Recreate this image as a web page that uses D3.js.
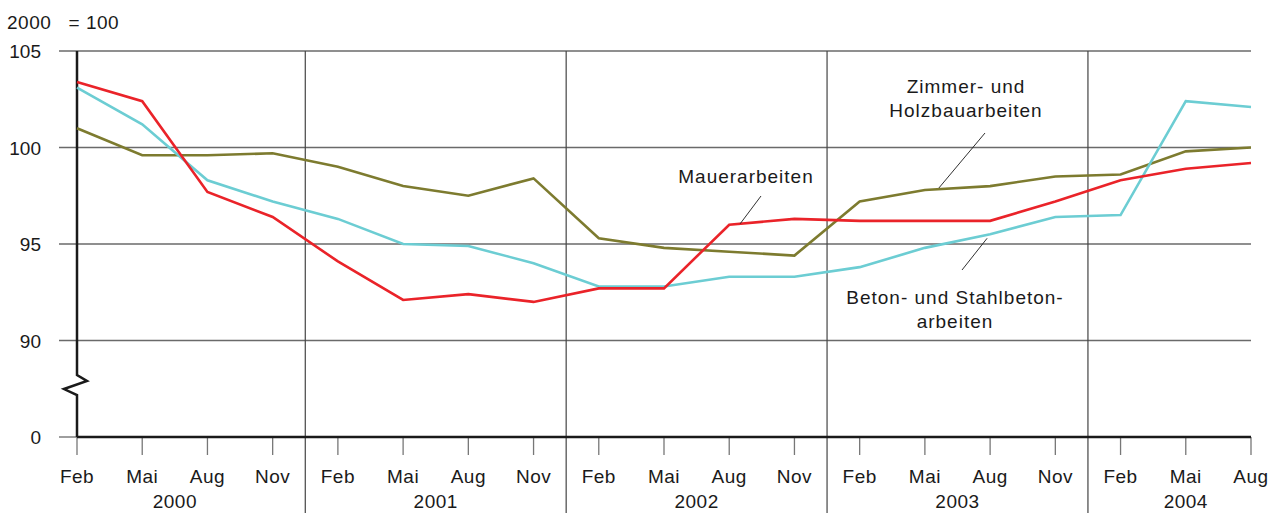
<!DOCTYPE html>
<html>
<head>
<meta charset="utf-8">
<script src="https://cdn.jsdelivr.net/npm/d3@7"></script>
<style>
body { margin: 0; background: #fff; }
text { font-family: "Liberation Sans", Arial, sans-serif; fill: #1a1a1a; }
</style>
</head>
<body>
<svg id="chart" width="1285" height="513"></svg>
<script>
var months = ["Feb", "Mai", "Aug", "Nov"];
var years = ["2000", "2001", "2002", "2003", "2004"];
var yTicks = [85, 90, 95, 100, 105];
var yTickLabels = ["0", "90", "95", "100", "105"];

var mauer = [103.4, 102.4, 97.7, 96.4, 94.1, 92.1, 92.4, 92.0, 92.7, 92.7, 96.0, 96.3, 96.2, 96.2, 96.2, 97.2, 98.3, 98.9, 99.2];
var beton = [103.1, 101.2, 98.3, 97.2, 96.3, 95.0, 94.9, 94.0, 92.8, 92.8, 93.3, 93.3, 93.8, 94.8, 95.5, 96.4, 96.5, 102.4, 102.1];
var zimmer = [101.0, 99.6, 99.6, 99.7, 99.0, 98.0, 97.5, 98.4, 95.3, 94.8, 94.6, 94.4, 97.2, 97.8, 98.0, 98.5, 98.6, 99.8, 100.0];

// quarter labels Feb 2000 .. Aug 2004
var quarters = [];
years.forEach(function(yr) {
    months.forEach(function(m) {
        if (quarters.length < mauer.length) quarters.push({ m: m, y: yr });
    });
});

var svg = d3.select("#chart");
var plotLeft = 77, plotRight = 1251, plotTop = 51, plotBottom = 437;

var x = d3.scaleLinear().domain([0, quarters.length - 1]).range([plotLeft, plotRight]);
var y = d3.scaleLinear().domain([85, 105]).range([plotBottom, plotTop]);

svg.append("text").attr("x", 7).attr("y", 29)
    .style("font-size", "19px").style("letter-spacing", "0.5px")
    .style("white-space", "pre")
    .text("2000   = 100");

// horizontal grid
svg.selectAll("line.grid")
    .data(yTicks)
    .enter()
    .append("line")
    .attr("x1", 59)
    .attr("x2", function(d) { return d == 85 ? plotLeft : plotRight; })
    .attr("y1", function(d) { return y(d); })
    .attr("y2", function(d) { return y(d); })
    .attr("stroke", "#6a6a6a")
    .attr("stroke-width", 1.3);

svg.selectAll("text.ytick")
    .data(yTicks)
    .enter()
    .append("text")
    .attr("x", 41)
    .attr("y", function(d) { return y(d) + 7; })
    .attr("text-anchor", "end")
    .style("font-size", "19px")
    .text(function(d, i) { return yTickLabels[i]; });

// year separators
svg.selectAll("line.year")
    .data(years.slice(1))
    .enter()
    .append("line")
    .attr("x1", function(d, i) { return (x(i * 4 + 3) + x(i * 4 + 4)) / 2; })
    .attr("x2", function(d, i) { return (x(i * 4 + 3) + x(i * 4 + 4)) / 2; })
    .attr("y1", plotTop)
    .attr("y2", 513)
    .attr("stroke", "#444")
    .attr("stroke-width", 1.2);

// tick marks
svg.selectAll("line.tick")
    .data(quarters)
    .enter()
    .append("line")
    .attr("x1", function(d, i) { return x(i); })
    .attr("x2", function(d, i) { return x(i); })
    .attr("y1", plotBottom)
    .attr("y2", plotBottom + 18)
    .attr("stroke", "#777")
    .attr("stroke-width", 1.3);

svg.selectAll("text.month")
    .data(quarters)
    .enter()
    .append("text")
    .attr("x", function(d, i) { return x(i); })
    .attr("y", 483)
    .attr("text-anchor", "middle")
    .style("font-size", "19px")
    .style("letter-spacing", "0.5px")
    .text(function(d) { return d.m; });

svg.selectAll("text.year")
    .data(years)
    .enter()
    .append("text")
    .attr("x", function(d, i) {
        var first = i * 4, last = Math.min(i * 4 + 3, quarters.length - 1);
        return (x(first) + x(last)) / 2;
    })
    .attr("y", 508)
    .attr("text-anchor", "middle")
    .style("font-size", "19px")
    .style("letter-spacing", "0.5px")
    .text(function(d) { return d; });

// axes with break
var yb = y(87.9);
svg.append("path")
    .attr("d", "M" + plotLeft + "," + plotTop + "V" + (yb - 6) + "L" + (plotLeft + 10) + "," + yb +
               "L" + (plotLeft - 13) + "," + (yb + 8) + "L" + plotLeft + "," + (yb + 14) + "V" + plotBottom)
    .attr("fill", "none")
    .attr("stroke", "#1a1a1a")
    .attr("stroke-width", 2.5);
svg.append("line")
    .attr("x1", plotLeft).attr("x2", plotRight)
    .attr("y1", plotBottom).attr("y2", plotBottom)
    .attr("stroke", "#1a1a1a")
    .attr("stroke-width", 2.5);

// series
var line = d3.line()
    .x(function(d, i) { return x(i); })
    .y(function(d) { return y(d); });

var series = [
    { values: zimmer, color: "#7d7b2f" },
    { values: beton, color: "#6ccdd3" },
    { values: mauer, color: "#ea2329" }
];
series.forEach(function(s) {
    svg.append("path")
        .attr("d", line(s.values))
        .attr("fill", "none")
        .attr("stroke", s.color)
        .attr("stroke-width", 2.6);
});

// labels and leader lines
function label(lines, cx, cy) {
    lines.forEach(function(t, i) {
        svg.append("text")
            .attr("x", cx)
            .attr("y", cy + i * 23.5)
            .attr("text-anchor", "middle")
            .style("font-size", "19px")
            .style("letter-spacing", "1px")
            .text(t);
    });
}
function leader(x1, y1, x2, y2) {
    svg.append("line")
        .attr("x1", x1).attr("y1", y1).attr("x2", x2).attr("y2", y2)
        .attr("stroke", "#1a1a1a").attr("stroke-width", 0.9);
}

label(["Mauerarbeiten"], 746, 183);
leader(761, 196, x(10) + 11, y(96.0) - 1);

label(["Zimmer- und", "Holzbauarbeiten"], 966, 93);
leader(985, 133, x(13) + 14, y(97.85) - 1);

label(["Beton- und Stahlbeton-", "arbeiten"], 955, 304);
leader(962, 270, x(14) - 3, y(95.4) + 2);
</script>
</body>
</html>
